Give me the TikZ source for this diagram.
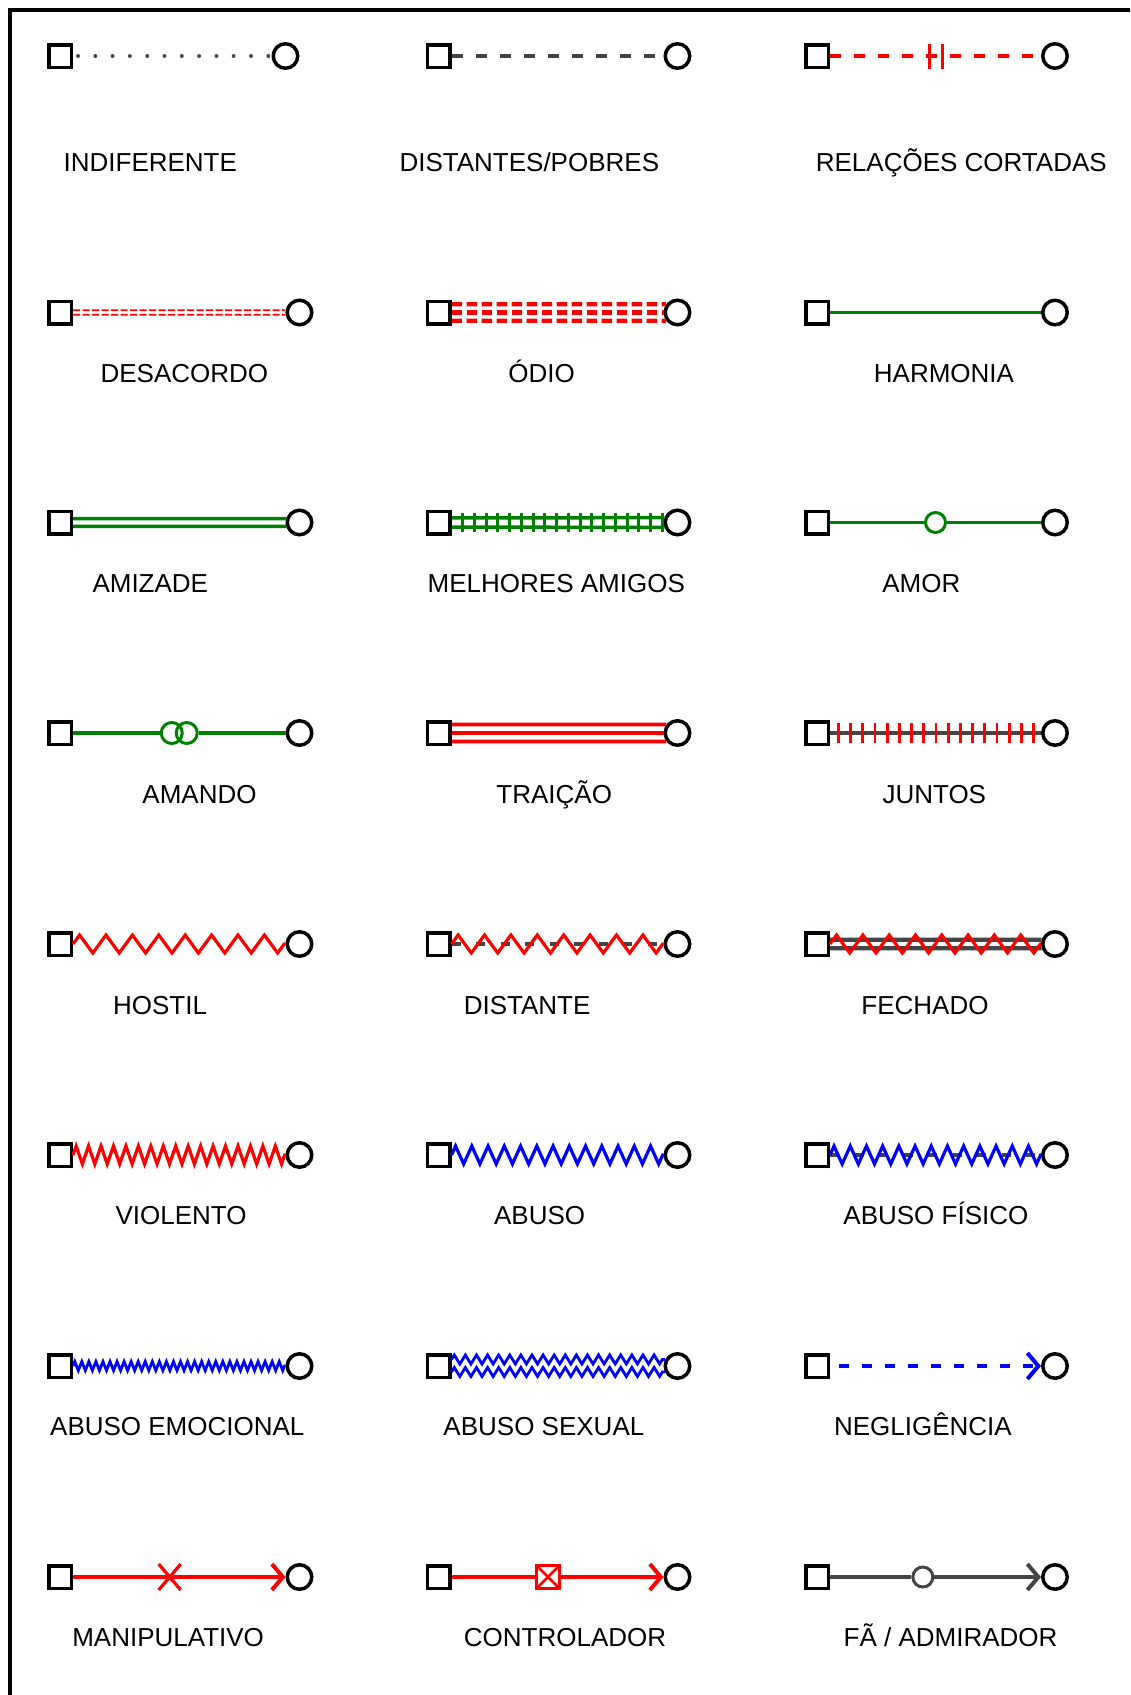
\documentclass[tikz,border=0pt]{standalone}
\usepackage{fontspec}
\setmainfont{Liberation Sans}
\usetikzlibrary{calc,decorations.pathmorphing,decorations.markings,arrows.meta}
\definecolor{gA}{HTML}{008000}
\definecolor{rA}{HTML}{FF0000}
\definecolor{bA}{HTML}{0000FF}
\definecolor{dg}{HTML}{444444}
\definecolor{mg}{HTML}{4A4A4A}
\begin{document}
\begin{tikzpicture}[x=1pt,y=1pt,
  sq/.style={draw=black, rectangle, line width=3.5pt, minimum size=22.5pt, inner sep=0pt},
  ci/.style={draw=black, circle, line width=3.5pt, minimum size=24.5pt, inner sep=0pt},
  lab/.style={anchor=base, inner sep=0pt, font=\fontsize{26}{30}\selectfont},
  smallci/.style={circle, line width=3pt, minimum size=20pt, inner sep=0pt, fill=white},
  tipend/.style={-{Straight Barb[length=11pt,width=26pt]}},
  zz/.style n args={2}{decorate, decoration={zigzag, amplitude=#1, segment length=#2}},
  dashmid/.style={dg, line width=4pt, dash pattern=on 9pt off 15.5pt},
]
\useasboundingbox (0,0) rectangle (1130,-1695);
\clip (0,0) rectangle (1130,-1695);
\draw[line width=4pt] (1140,-10) -- (10,-10) -- (10,-1705);

% ---------- nodes ----------
\node[sq] (s11) at (60,-56) {};     \node[ci] (c11) at (285.5,-56) {};
\node[sq] (s12) at (438.5,-56) {};  \node[ci] (c12) at (677.5,-56) {};
\node[sq] (s13) at (817,-56) {};    \node[ci] (c13) at (1055,-56) {};

\node[sq] (s21) at (60,-312.5) {};    \node[ci] (c21) at (299.5,-312.5) {};
\node[sq] (s22) at (438.5,-312.5) {}; \node[ci] (c22) at (677.5,-312.5) {};
\node[sq] (s23) at (817,-312.5) {};   \node[ci] (c23) at (1055,-312.5) {};

\node[sq] (s31) at (60,-522.5) {};    \node[ci] (c31) at (299.5,-522.5) {};
\node[sq] (s32) at (438.5,-522.5) {}; \node[ci] (c32) at (677.5,-522.5) {};
\node[sq] (s33) at (817,-522.5) {};   \node[ci] (c33) at (1055,-522.5) {};

\node[sq] (s41) at (60,-733) {};    \node[ci] (c41) at (299.5,-733) {};
\node[sq] (s42) at (438.5,-733) {}; \node[ci] (c42) at (677.5,-733) {};
\node[sq] (s43) at (817,-733) {};   \node[ci] (c43) at (1055,-733) {};

\node[sq] (s51) at (60,-944) {};    \node[ci] (c51) at (299.5,-944) {};
\node[sq] (s52) at (438.5,-944) {}; \node[ci] (c52) at (677.5,-944) {};
\node[sq] (s53) at (817,-944) {};   \node[ci] (c53) at (1055,-944) {};

\node[sq] (s61) at (60,-1155) {};    \node[ci] (c61) at (299.5,-1155) {};
\node[sq] (s62) at (438.5,-1155) {}; \node[ci] (c62) at (677.5,-1155) {};
\node[sq] (s63) at (817,-1155) {};   \node[ci] (c63) at (1055,-1155) {};

\node[sq] (s71) at (60,-1366) {};    \node[ci] (c71) at (299.5,-1366) {};
\node[sq] (s72) at (438.5,-1366) {}; \node[ci] (c72) at (677.5,-1366) {};
\node[sq] (s73) at (817,-1366) {};   \node[ci] (c73) at (1055,-1366) {};

\node[sq] (s81) at (60,-1577) {};    \node[ci] (c81) at (299.5,-1577) {};
\node[sq] (s82) at (438.5,-1577) {}; \node[ci] (c82) at (677.5,-1577) {};
\node[sq] (s83) at (817,-1577) {};   \node[ci] (c83) at (1055,-1577) {};

% ---------- labels ----------
\node[lab] (l11) at (150.3,-171.4) {INDIFERENTE};
\node[lab] (l12) at (529.3,-171.4) {DISTANTES/POBRES};
\node[lab] (l13) at (961.3,-171.4) {RELAÇÕES CORTADAS};
\node[lab] (l21) at (184.4,-382.4) {DESACORDO};
\node[lab] (l22) at (541.7,-382.4) {ÓDIO};
\node[lab] (l23) at (944,-382.4) {HARMONIA};
\node[lab] (l31) at (150.3,-592.4) {AMIZADE};
\node[lab] (l32) at (556.3,-592.4) {MELHORES AMIGOS};
\node[lab] (l33) at (921.3,-592.4) {AMOR};
\node[lab] (l41) at (199.5,-803.4) {AMANDO};
\node[lab] (l42) at (554.2,-803.4) {TRAIÇÃO};
\node[lab] (l43) at (934.3,-803.4) {JUNTOS};
\node[lab] (l51) at (160,-1014.4) {HOSTIL};
\node[lab] (l52) at (527.1,-1014.4) {DISTANTE};
\node[lab] (l53) at (925,-1014.4) {FECHADO};
\node[lab] (l61) at (181.1,-1224.4) {VIOLENTO};
\node[lab] (l62) at (539.6,-1224.4) {ABUSO};
\node[lab] (l63) at (935.9,-1224.4) {ABUSO FÍSICO};
\node[lab] (l71) at (177.3,-1435.4) {ABUSO EMOCIONAL};
\node[lab] (l72) at (543.9,-1435.4) {ABUSO SEXUAL};
\node[lab] (l73) at (922.9,-1435.4) {NEGLIGÊNCIA};
\node[lab] (l81) at (168.1,-1646.4) {MANIPULATIVO};
\node[lab] (l82) at (565,-1646.4) {CONTROLADOR};
\node[lab] (l83) at (950.5,-1646.4) {FÃ / ADMIRADOR};

% ---------- row 1 ----------
\draw[mg, line width=4pt, line cap=round, dash pattern=on 0pt off 17.3pt, dash phase=12.3pt] (s11.east) -- (c11.west);
\draw[dg, line width=4pt, dash pattern=on 11pt off 13pt] (s12.east) -- (c12.west);
\draw[rA, line width=4pt, dash pattern=on 11pt off 13pt] (s13.east) -- coordinate[pos=0.5] (m13) (c13.west);
\draw[rA, line width=3pt] ($(m13)+(-6.5,-12.5)$) -- ($(m13)+(-6.5,12.5)$);
\draw[rA, line width=3pt] ($(m13)+(6.5,-12.5)$) -- ($(m13)+(6.5,12.5)$);

% ---------- row 2 ----------
\draw[rA, line width=1.8pt, dash pattern=on 7pt off 2.5pt] ([yshift=2.3pt]s21.east) -- (c21.171);
\draw[rA, line width=1.8pt, dash pattern=on 7pt off 2.5pt] ([yshift=-2.3pt]s21.east) -- (c21.189);
\foreach \o/\a in {8.3/144, 0/180, -8.3/216}
  \draw[rA, line width=4.2pt, dash pattern=on 10.5pt off 4.5pt] ([yshift=\o pt]s22.east) -- (c22.\a);
\draw[gA, line width=3.5pt] (s23.east) -- (c23.west);

% ---------- row 3 ----------
\draw[gA, line width=3.5pt] ([yshift=3.9pt]s31.east) -- (c31.164);
\draw[gA, line width=3.5pt] ([yshift=-3.9pt]s31.east) -- (c31.196);
\draw[gA, line width=3.5pt] ([yshift=4.7pt]s32.east) -- (c32.160);
\draw[gA, line width=3.5pt] ([yshift=-4.7pt]s32.east) -- (c32.200);
\path[postaction={decorate}, decoration={markings, mark=between positions 11pt and 212pt step 11.75pt with {\draw[gA, line width=3pt] (0pt,-9.2pt) -- (0pt,9.2pt);}}] (s32.east) -- (c32.west);
\node[smallci, draw=gA, line width=3pt] (m33) at ($(s33.east)!0.5!(c33.west)$) {};
\draw[gA, line width=3.5pt] (s33.east) -- (m33.west);
\draw[gA, line width=3.5pt] (m33.east) -- (c33.west);

% ---------- row 4 ----------
\coordinate (m41) at ($(s41.east)!0.5!(c41.west)$);
\node[smallci, draw=gA, fill=none, minimum size=21pt] (a41) at ($(m41)+(-7.5,0)$) {};
\node[smallci, draw=gA, fill=none, minimum size=21pt] (b41) at ($(m41)+(7.5,0)$) {};
\draw[gA, line width=3.5pt] (s41.east) -- (a41.west);
\draw[gA, line width=3.5pt] (b41.east) -- (c41.west);
\foreach \o/\a in {8.5/143, 0/180, -8.5/217}
  \draw[rA, line width=3.8pt] ([yshift=\o pt]s42.east) -- (c42.\a);
\draw[dg, line width=4pt] (s43.east) -- (c43.west);
\path[postaction={decorate}, decoration={markings, mark=between positions 8.4pt and 204pt step 12.2pt with {\draw[rA, line width=2.8pt] (0pt,-10pt) -- (0pt,10pt);}}] (s43.east) -- (c43.west);

% ---------- row 5 ----------
\draw[rA, line width=3.2pt, zz={9pt}{26.4pt}] (s51.east) -- (c51.west);
\draw[dashmid] (s52.east) -- (c52.west);
\draw[rA, line width=3.2pt, zz={9pt}{26.4pt}] (s52.east) -- (c52.west);
\draw[dg, line width=4.2pt] ([yshift=4.3pt]s53.east) -- (c53.162);
\draw[dg, line width=4.2pt] ([yshift=-4.3pt]s53.east) -- (c53.198);
\draw[rA, line width=3.2pt, zz={9pt}{26.3pt}] (s53.east) -- (c53.west);

% ---------- row 6 ----------
\draw[rA, line width=3.2pt, zz={9pt}{12.45pt}] (s61.east) -- (c61.west);
\draw[bA, line width=3.2pt, zz={9pt}{16.25pt}] (s62.east) -- (c62.west);
\draw[dashmid] (s63.east) -- (c63.west);
\draw[bA, line width=3.2pt, zz={9pt}{16.2pt}] (s63.east) -- (c63.west);

% ---------- row 7 ----------
\draw[bA, line width=2.8pt, zz={4.5pt}{7.05pt}] (s71.east) -- (c71.west);
\draw[bA, line width=2.8pt, zz={4.5pt}{11.1pt}] ([yshift=6.5pt]s72.east) -- (c72.152);
\draw[bA, line width=2.8pt, zz={4.5pt}{11.1pt}] ([yshift=-6pt]s72.east) -- (c72.205);
\draw[bA, line width=4pt, dash pattern=on 10pt off 13pt, shorten <=9pt, tipend] (s73.east) -- (c73.west);

% ---------- row 8 ----------
\draw[rA, line width=4pt, tipend] (s81.east) -- coordinate[pos=0.455] (x81) (c81.west);
\draw[rA, line width=3.2pt] ($(x81)+(-11,-13)$) -- ($(x81)+(11,13)$);
\draw[rA, line width=3.2pt] ($(x81)+(-11,13)$) -- ($(x81)+(11,-13)$);
\node[draw=rA, rectangle, line width=3.2pt, minimum size=23pt, inner sep=0pt, outer sep=0pt, fill=white] (b82) at ($(s82.east)!0.455!(c82.west)$) {};
\draw[rA, line width=2.6pt] (b82.south west) -- (b82.north east);
\draw[rA, line width=2.6pt] (b82.north west) -- (b82.south east);
\draw[rA, line width=4pt] (s82.east) -- (b82.west);
\draw[rA, line width=4pt, tipend] (b82.east) -- (c82.west);
\node[smallci, draw=dg] (f83) at ($(s83.east)!0.44!(c83.west)$) {};
\draw[dg, line width=4pt] (s83.east) -- (f83.west);
\draw[dg, line width=4pt, tipend] (f83.east) -- (c83.west);
\end{tikzpicture}
\end{document}
